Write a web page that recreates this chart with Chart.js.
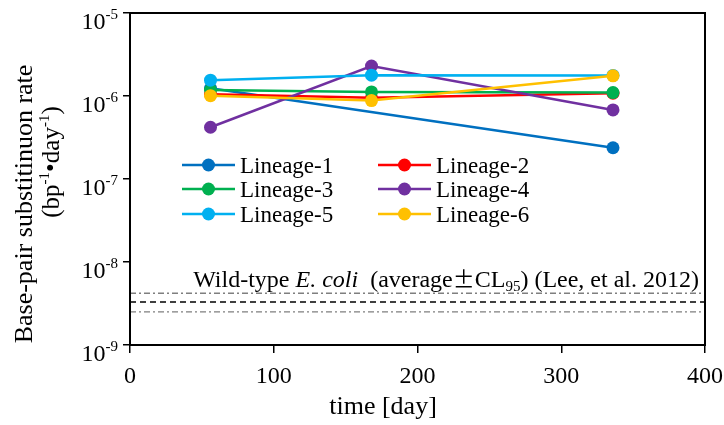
<!DOCTYPE html>
<html>
<head>
<meta charset="utf-8">
<script src="https://cdn.jsdelivr.net/npm/chart.js@4.4.1/dist/chart.umd.min.js"></script>
<style>
  html, body { margin: 0; padding: 0; background: #fff; }
  #wrap { width: 724px; height: 425px; }
</style>
</head>
<body>
<div id="wrap"><canvas id="chart" width="724" height="425"></canvas></div>
<script>
(function () {
  "use strict";

  // ── Data ──
  var DAYS = [56, 168, 336];
  var LINEAGES = ["Lineage-1", "Lineage-2", "Lineage-3", "Lineage-4", "Lineage-5", "Lineage-6"];
  var LINEAGE_1 = [1.24e-6, null, 2.38e-7];
  var LINEAGE_2 = [1.05e-6, 9.5e-7, 1.08e-6];
  var LINEAGE_3 = [1.18e-6, 1.12e-6, 1.10e-6];
  var LINEAGE_4 = [4.2e-7, 2.3e-6, 6.8e-7];
  var LINEAGE_5 = [1.55e-6, 1.78e-6, 1.77e-6];
  var LINEAGE_6 = [1.01e-6, 8.8e-7, 1.75e-6];
  var COLORS = ["#0070C0", "#FF0000", "#00B050", "#7030A0", "#00B0F0", "#FFC000"];

  // wild-type reference (Lee et al. 2012): average and CL95 bounds
  var WT_RANGE = [0, 400];
  var WT_AVG = 3.3e-9;
  var WT_UPPER = 4.2e-9;
  var WT_LOWER = 2.5e-9;

  var X_TICKS = [0, 100, 200, 300, 400];
  var Y_TICKS = [1e-9, 1e-8, 1e-7, 1e-6, 1e-5];

  var SERIF = "'Liberation Serif', 'Times New Roman', serif";
  var CJK = "'Noto Sans CJK JP', sans-serif";

  var series = [LINEAGE_1, LINEAGE_2, LINEAGE_3, LINEAGE_4, LINEAGE_5, LINEAGE_6];

  function pts(vals) {
    return DAYS.map(function (d, i) { return { x: d, y: vals[i] }; });
  }
  function hline(v) {
    return WT_RANGE.map(function (x) { return { x: x, y: v }; });
  }

  var datasets = series.map(function (vals, i) {
    return {
      label: LINEAGES[i],
      data: pts(vals),
      borderColor: COLORS[i],
      backgroundColor: COLORS[i],
      borderWidth: 2.5,
      pointRadius: 6.5,
      pointBorderWidth: 0,
      spanGaps: true,
      tension: 0,
      order: 10 - i
    };
  });

  datasets.push(
    { label: "wt-upper", data: hline(WT_UPPER), borderColor: "#7F7F7F", borderWidth: 1.3, borderDash: [6, 3, 2, 3], pointRadius: 0, order: 20 },
    { label: "wt-avg", data: hline(WT_AVG), borderColor: "#000000", borderWidth: 1.6, borderDash: [6, 4], pointRadius: 0, order: 20 },
    { label: "wt-lower", data: hline(WT_LOWER), borderColor: "#7F7F7F", borderWidth: 1.3, borderDash: [6, 3, 2, 3], pointRadius: 0, order: 20 }
  );

  // ── Text parts drawn on the canvas (superscripts, legend, notes) ──
  function drawRuns(ctx, runs, x, y) {
    runs.forEach(function (r) {
      ctx.font = r.font;
      ctx.fillText(r.text, x, y + (r.dy || 0));
      x += ctx.measureText(r.text).width;
    });
    return x;
  }
  function runsWidth(ctx, runs) {
    var w = 0;
    runs.forEach(function (r) { ctx.font = r.font; w += ctx.measureText(r.text).width; });
    return w;
  }

  var decorPlugin = {
    id: "decor",
    afterDraw: function (chart) {
      var ctx = chart.ctx;
      var a = chart.chartArea;
      var xs = chart.scales.x, ys = chart.scales.y;
      ctx.save();

      // plot frame
      ctx.strokeStyle = "#000";
      ctx.lineWidth = 2;
      ctx.strokeRect(a.left, a.top, a.right - a.left, a.bottom - a.top);

      ctx.fillStyle = "#000";
      ctx.textAlign = "left";
      ctx.textBaseline = "alphabetic";

      // y tick labels 10^n
      Y_TICKS.forEach(function (v) {
        var y = ys.getPixelForValue(v);
        var exp = String(Math.round(Math.log10(v)));
        var runs = [
          { text: "10", font: "24px " + SERIF, dy: 16 },
          { text: exp, font: "15px " + SERIF, dy: 6 }
        ];
        drawRuns(ctx, runs, 118 - runsWidth(ctx, runs), y);
      });

      // x tick labels
      ctx.font = "24px " + SERIF;
      ctx.textAlign = "center";
      X_TICKS.forEach(function (v) {
        ctx.fillText(String(v), xs.getPixelForValue(v), 383);
      });

      // x title
      ctx.font = "26px " + SERIF;
      ctx.fillText("time [day]", 383, 414);

      // y title (two lines, rotated)
      ctx.save();
      ctx.translate(32, 204);
      ctx.rotate(-Math.PI / 2);
      ctx.font = "26px " + SERIF;
      ctx.textAlign = "center";
      ctx.fillText("Base-pair substitinuon rate", 0, 0);
      ctx.restore();

      ctx.save();
      ctx.translate(59, 162);
      ctx.rotate(-Math.PI / 2);
      ctx.textAlign = "left";
      var unitRuns = [
        { text: "(bp", font: "25px " + SERIF },
        { text: "-1", font: "15px " + SERIF, dy: -10 },
        { text: "\u2022day", font: "25px " + SERIF },
        { text: "-1", font: "15px " + SERIF, dy: -10 },
        { text: ")", font: "25px " + SERIF }
      ];
      drawRuns(ctx, unitRuns, -runsWidth(ctx, unitRuns) / 2, 0);
      ctx.restore();

      // legend (two columns, three rows)
      var rowsY = [165, 189, 214];
      var colsX = [182, 378];
      LINEAGES.forEach(function (name, i) {
        var cx = colsX[i % 2], cy = rowsY[Math.floor(i / 2)];
        ctx.strokeStyle = COLORS[i];
        ctx.lineWidth = 2.5;
        ctx.beginPath();
        ctx.moveTo(cx, cy);
        ctx.lineTo(cx + 53, cy);
        ctx.stroke();
        ctx.fillStyle = COLORS[i];
        ctx.beginPath();
        ctx.arc(cx + 26.5, cy, 6.5, 0, Math.PI * 2);
        ctx.fill();
        ctx.fillStyle = "#000";
        ctx.font = "23px " + SERIF;
        ctx.textAlign = "left";
        ctx.fillText(name, cx + 58, cy + 8);
      });

      // wild-type note
      var noteRuns = [
        { text: "Wild-type ", font: "24px " + SERIF },
        { text: "E. coli", font: "italic 24px " + SERIF },
        { text: "  (average", font: "24px " + SERIF },
        { text: "\u00B1", font: "22px " + CJK },
        { text: "CL", font: "24px " + SERIF },
        { text: "95", font: "15px " + SERIF, dy: 4 },
        { text: ") (Lee, et al. 2012)", font: "24px " + SERIF }
      ];
      ctx.fillStyle = "#000";
      drawRuns(ctx, noteRuns, 699 - runsWidth(ctx, noteRuns), 287);

      ctx.restore();
    }
  };

  new Chart(document.getElementById("chart"), {
    type: "line",
    data: { datasets: datasets },
    plugins: [decorPlugin],
    options: {
      responsive: false,
      animation: false,
      events: [],
      layout: { padding: { left: 123, right: 19, top: 13, bottom: 72 } },
      plugins: { legend: { display: false }, tooltip: { enabled: false } },
      scales: {
        x: {
          type: "linear",
          min: 0, max: 400,
          afterBuildTicks: function (axis) {
            axis.ticks = X_TICKS.map(function (v) { return { value: v }; });
          },
          ticks: { display: false },
          grid: { drawOnChartArea: false, drawTicks: true, tickLength: 8, color: "#000", lineWidth: 1.5 },
          border: { display: true, color: "#000", width: 2 }
        },
        y: {
          type: "logarithmic",
          min: 1e-9, max: 1e-5,
          afterBuildTicks: function (axis) {
            axis.ticks = Y_TICKS.map(function (v) { return { value: v }; });
          },
          ticks: { display: false },
          grid: { drawOnChartArea: false, drawTicks: true, tickLength: 7, color: "#000", lineWidth: 1.5 },
          border: { display: true, color: "#000", width: 2 }
        }
      }
    }
  });
})();
</script>
</body>
</html>
